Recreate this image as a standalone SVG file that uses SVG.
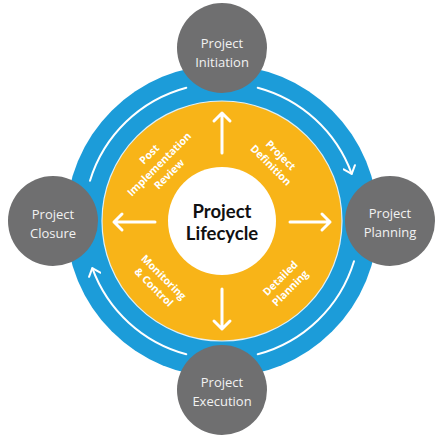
<svg xmlns="http://www.w3.org/2000/svg" width="444" height="444" viewBox="0 0 444 444">
<style>
.node circle{fill:#6f6f70}
.node text{font-family:"Open Sans",Lato,sans-serif;font-size:13px;fill:#f2f2f2;text-anchor:middle}
.seg text{font-family:"Open Sans",Lato,sans-serif;font-size:10.5px;font-weight:bold;fill:#ffffff;text-anchor:middle}
.ring{fill:none;stroke:#ffffff;stroke-width:2;stroke-linecap:round}
.spoke{fill:none;stroke:#ffffff;stroke-width:3;stroke-linecap:round;stroke-linejoin:round}
</style>
<defs>
<marker id="head" markerUnits="userSpaceOnUse" markerWidth="12" markerHeight="14" refX="8" refY="7" orient="auto" viewBox="0 0 12 14">
<path d="M1,1 L8,7 L1,13" fill="none" stroke="#ffffff" stroke-width="2" stroke-linecap="round" stroke-linejoin="round"/>
</marker>
</defs>
<rect width="444" height="444" fill="#ffffff"/>
<g id="wheel">
<circle cx="222" cy="221" r="156" fill="#1c9cd9"/>
<circle cx="222" cy="221" r="120" fill="#f8b418" stroke="#dff0f8" stroke-width="1.2"/>
<circle cx="222" cy="221" r="54" fill="#ffffff"/>
</g>
<g id="connectors">
<path class="ring" d="M257.7,87.7 A138,138 0 0 1 351.7,173.8" marker-end="url(#head)"/>
<path class="ring" d="M354.0,261.3 A138,138 0 0 1 257.7,354.3"/>
<path class="ring" d="M186.3,354.3 A138,138 0 0 1 92.3,268.2" marker-end="url(#head)"/>
<path class="ring" d="M90.0,180.7 A138,138 0 0 1 186.3,87.7"/>
<path class="spoke" d="M222,153 L222,113 M214,121 L222,113 L230,121"/>
<path class="spoke" d="M222,289 L222,329 M214,321 L222,329 L230,321"/>
<path class="spoke" d="M155,222 L114,222 M122,214 L114,222 L122,230"/>
<path class="spoke" d="M290,222 L330,222 M322,214 L330,222 L322,230"/>
</g>
<g id="center">
<text x="222" y="218" font-family="Lato,'Open Sans',sans-serif" font-size="18.5" font-weight="bold" fill="#111111" text-anchor="middle">Project</text>
<text x="222" y="240" font-family="Lato,'Open Sans',sans-serif" font-size="18.5" font-weight="bold" fill="#111111" text-anchor="middle">Lifecycle</text>
</g>
<g id="seg-definition" class="seg" transform="translate(276,160) rotate(45)">
<text x="0" y="-3">Project</text>
<text x="0" y="11">Definition</text>
</g>
<g id="seg-planning" class="seg" transform="translate(285,283) rotate(-45)">
<text x="0" y="-3">Detailed</text>
<text x="0" y="11">Planning</text>
</g>
<g id="seg-monitoring" class="seg" transform="translate(159,282) rotate(45)">
<text x="0" y="-3">Monitoring</text>
<text x="0" y="11">&amp; Control</text>
</g>
<g id="seg-review" class="seg" transform="translate(159,164) rotate(-45)">
<text x="0" y="-10">Post</text>
<text x="0" y="4">Implementation</text>
<text x="0" y="18">Review</text>
</g>
<g id="node-initiation" class="node">
<circle cx="222" cy="48" r="45"/>
<text x="222" y="48">Project</text>
<text x="222" y="67">Initiation</text>
</g>
<g id="node-planning" class="node">
<circle cx="390" cy="221" r="45"/>
<text x="390" y="218">Project</text>
<text x="390" y="237">Planning</text>
</g>
<g id="node-execution" class="node">
<circle cx="222" cy="390" r="45"/>
<text x="222" y="387">Project</text>
<text x="222" y="406">Execution</text>
</g>
<g id="node-closure" class="node">
<circle cx="53" cy="221" r="45"/>
<text x="53" y="219">Project</text>
<text x="53" y="238">Closure</text>
</g>
</svg>
